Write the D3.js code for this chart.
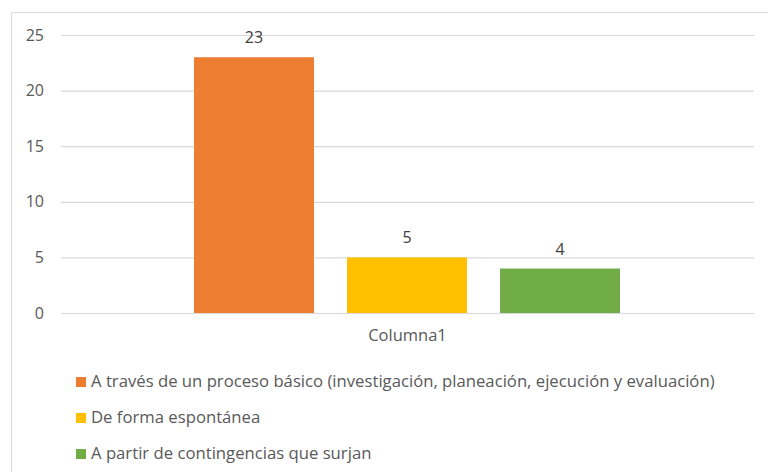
<!DOCTYPE html>
<html>
<head>
<meta charset="utf-8">
<script src="https://cdn.jsdelivr.net/npm/d3@7"></script>
<style>
  body { margin: 0; background: #fff; }
  svg { display: block; font-family: "Open Sans", Lato, sans-serif; }
</style>
</head>
<body>
<svg id="chart" width="768" height="472"></svg>
<script>
// Datos
var category = "Columna1";
var seriesNames = [
  "A través de un proceso básico (investigación, planeación, ejecución y evaluación)",
  "De forma espontánea",
  "A partir de contingencias que surjan"
];
var seriesValues = [23, 5, 4];
var seriesColors = ["#ed7d31", "#ffc000", "#70ad47"];
var yTicks = [0, 5, 10, 15, 20, 25];

var svg = d3.select("#chart");
var textColor = "#595959";
var fontFam = "'Open Sans', Lato, sans-serif";

// cadre du graphique
svg.append("rect")
  .attr("x", 11.5).attr("y", 12.5)
  .attr("width", 770).attr("height", 480)
  .attr("fill", "none")
  .attr("stroke", "#d9d9d9");

var plotLeft = 61, plotRight = 754, plotTop = 35, plotBottom = 313;

var y = d3.scaleLinear().domain([0, 25]).range([plotBottom, plotTop]);
var xCat = d3.scaleBand().domain([category]).range([plotLeft, plotRight]);
var xSeries = d3.scaleBand().domain(d3.range(seriesValues.length))
  .range([133, xCat.bandwidth() - 134]).paddingInner(0.216);

// grille
var yAxis = d3.axisLeft(y).tickValues(yTicks).tickSize(-(plotRight - plotLeft)).tickPadding(17);
var gy = svg.append("g").attr("transform", "translate(" + plotLeft + ",0)").call(yAxis)
  .attr("font-family", fontFam).attr("font-size", 16);
gy.select(".domain").remove();
gy.selectAll(".tick line").attr("stroke", "#d9d9d9").attr("stroke-width", 1.2);
gy.selectAll(".tick text").attr("fill", textColor);

// barres
var bars = svg.append("g").attr("transform", "translate(" + xCat(category) + ",0)");
bars.selectAll("rect")
  .data(seriesValues)
  .enter().append("rect")
  .attr("x", function(d, i) { return xSeries(i); })
  .attr("y", function(d) { return y(d); })
  .attr("width", xSeries.bandwidth())
  .attr("height", function(d) { return plotBottom - y(d); })
  .attr("fill", function(d, i) { return seriesColors[i]; });

// étiquettes de valeur
bars.selectAll("text.val")
  .data(seriesValues)
  .enter().append("text")
  .attr("class", "val")
  .attr("x", function(d, i) { return xSeries(i) + xSeries.bandwidth() / 2; })
  .attr("y", function(d) { return y(d) - 14; })
  .attr("text-anchor", "middle")
  .attr("fill", "#404040")
  .style("font-size", "16px")
  .text(function(d) { return d; });

// axe x (catégorie)
var xAxis = d3.axisBottom(xCat).tickSize(0).tickPadding(16);
var gx = svg.append("g").attr("transform", "translate(0," + plotBottom + ")").call(xAxis)
  .attr("font-family", fontFam).attr("font-size", 16.5);
gx.select(".domain").remove();
gx.selectAll(".tick text").attr("fill", textColor);

// légende
var legend = svg.append("g").attr("transform", "translate(76,0)");
var rows = legend.selectAll("g")
  .data(seriesNames)
  .enter().append("g")
  .attr("transform", function(d, i) { return "translate(0," + (387 + i * 36) + ")"; });
rows.append("rect")
  .attr("x", 0).attr("y", -10)
  .attr("width", 10).attr("height", 10)
  .attr("fill", function(d, i) { return seriesColors[i]; });
rows.append("text")
  .attr("x", 15).attr("y", 0)
  .attr("fill", textColor)
  .style("font-size", "16.7px")
  .text(function(d) { return d; });
</script>
</body>
</html>
